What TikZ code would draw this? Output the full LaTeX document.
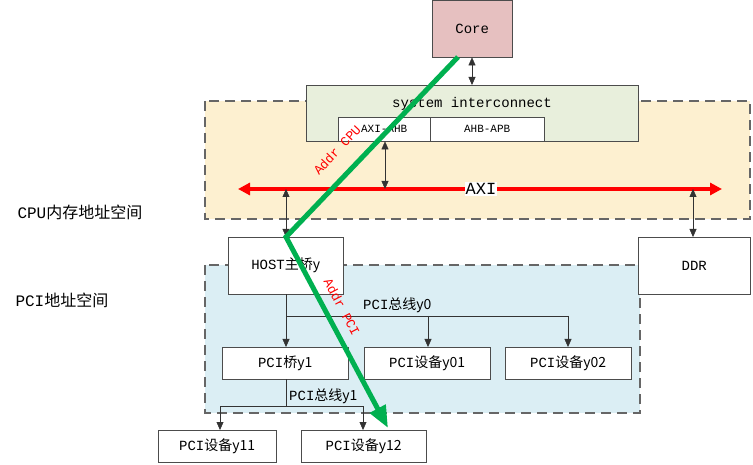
\documentclass[tikz,border=0pt]{standalone}
\usepackage{fontspec}
\setmainfont{Liberation Mono}
\newfontfamily\cjk{Noto Sans CJK SC}
\usetikzlibrary{arrows.meta}
\begin{document}
\begin{tikzpicture}[x=1pt,y=-1pt,font=\fontsize{14}{15}\selectfont,
  box/.style={draw=black!70,fill=white,minimum width=#1,minimum height=32pt,inner sep=0pt,anchor=north west},
  region/.style={draw=black!60,dashed,dash pattern=on 10pt off 6pt,line width=1.2pt},
  arr/.style={-{Triangle[width=7pt,length=8pt]},black!80},
  darr/.style={{Triangle[width=7pt,length=8pt]}-{Triangle[width=7pt,length=8pt]},black!80},
  lbl/.style={red,font=\fontsize{13}{14}\selectfont}]
\useasboundingbox (0,0) rectangle (753,465);
\fill[fill=white] (0,0) rectangle (753,465);
% regions
\draw[region,fill={rgb,255:red,253;green,240;blue,208}] (205,101) rectangle (750,219);
\draw[region,fill={rgb,255:red,219;green,238;blue,244}] (205,265) rectangle (640,413);
\node[anchor=west,font=\fontsize{16}{17}\selectfont] (cpul) at (14,212) {CPU\cjk{内存地址空间}};
\node[anchor=west,font=\fontsize{16}{17}\selectfont] (pcil) at (12,300) {PCI\cjk{地址空间}};
% top
\node[box=80pt,minimum height=57pt,fill={rgb,255:red,230;green,192;blue,192}] (core) at (432,0) {Core};
\node[box=332pt,minimum height=56pt,fill={rgb,255:red,232;green,239;blue,220},anchor=north west] (sys) at (306,85) {};
\node (syst) at (472,104) {system interconnect};
\node[box=92pt,minimum height=24pt,font=\fontsize{11}{12}\selectfont] (axiahb) at (338,117) {AXI-AHB};
\node[box=114pt,minimum height=24pt,font=\fontsize{11}{12}\selectfont] (ahbapb) at (430,117) {AHB-APB};
% AXI bus
\coordinate (axiL) at (238,189);
\coordinate (axiR) at (722,189);
\draw[red,line width=3.5pt,{Triangle[width=12pt,length=12pt]}-{Triangle[width=12pt,length=12pt]}] (axiL) -- (axiR);
\node[fill=white,inner sep=1pt,font=\fontsize{17}{18}\selectfont] (axil) at (481,189) {AXI};
\node[box=115pt,minimum height=57pt] (host) at (228,237) {HOST\cjk{主桥}y};
\node[box=112pt,minimum height=57pt] (ddr) at (638,237) {DDR};
\draw[darr] (core.south -| 472,0) -- (sys.north -| 472,0);
\draw[darr] (axiahb.south -| 385,0) -- (385,189);
\draw[darr] (286,189) -- (host.north -| 286,0);
\draw[darr] (693,189) -- (ddr.north -| 693,0);
% PCI
\node[box=126pt] (br) at (222,347) {PCI\cjk{桥}y1};
\node[box=126pt] (d01) at (364,347) {PCI\cjk{设备}y01};
\node[box=126pt] (d02) at (505,347) {PCI\cjk{设备}y02};
\node[box=118pt] (d11) at (158,430) {PCI\cjk{设备}y11};
\node[box=125pt] (d12) at (301,430) {PCI\cjk{设备}y12};
\draw[black!80] (host.south -| 286,0) -- (286,316) -- (568,316);
\draw[arr] (286,316) -- (br.north -| 286,0);
\draw[arr] (428,316) -- (d01.north -| 428,0);
\draw[arr] (568,316) -- (d02.north -| 568,0);
\node[anchor=south west,inner sep=1pt] (b0) at (362,314) {PCI\cjk{总线}y0};
\draw[black!80] (br.south -| 286,0) -- (286,406);
\draw[black!80] (220,406) -- (363,406);
\draw[arr] (220,406) -- (d11.north -| 220,0);
\draw[arr] (363,406) -- (d12.north -| 363,0);
\node[anchor=south west,inner sep=1pt] (b1) at (288,405) {PCI\cjk{总线}y1};
% green path
\coordinate (g1) at (458,57);
\coordinate (g2) at (286,237);
\coordinate (g3) at (388,428);
\draw[line width=5pt,color={rgb,255:red,0;green,176;blue,80},-{Triangle[width=17pt,length=22pt]},line join=miter] (g1) -- (g2) -- (g3);
\node[lbl,rotate=47] (acpu) at (337,150) {Addr CPU};
\node[lbl,rotate=-62] (apci) at (342,307) {Addr PCI};
\end{tikzpicture}
\end{document}
